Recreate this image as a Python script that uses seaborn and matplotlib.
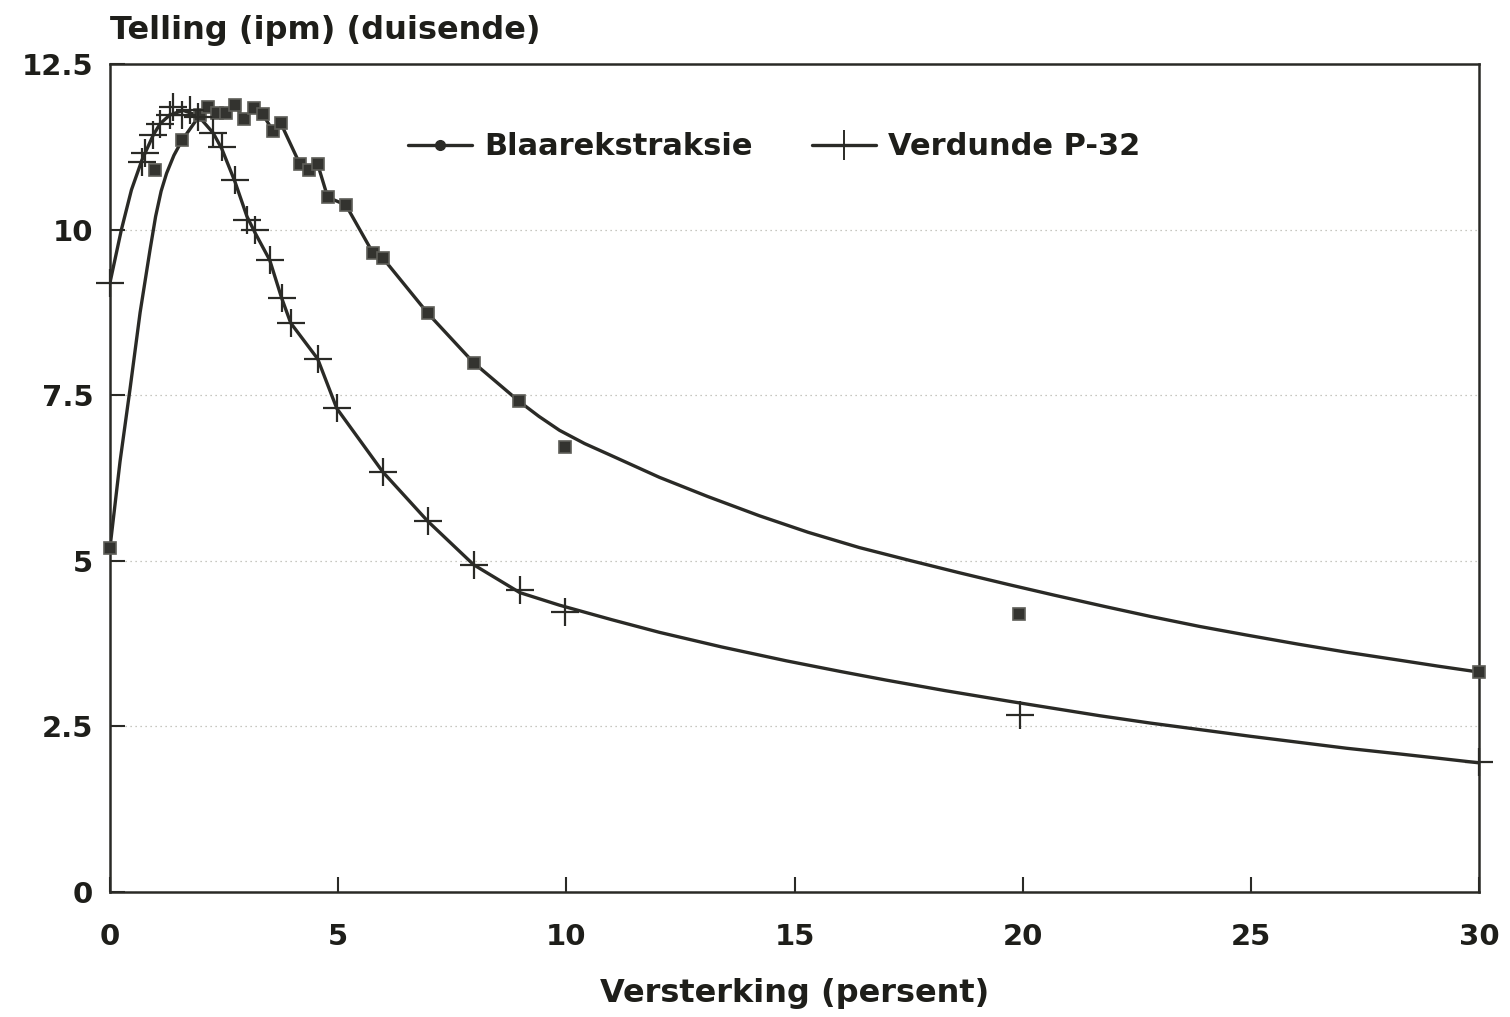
import numpy as np
import pandas as pd
import matplotlib
matplotlib.use("Agg")
import matplotlib.pyplot as plt
from matplotlib.lines import Line2D
import seaborn as sns

# ---------------- data ----------------
series_names = ["Blaarekstraksie", "Verdunde P-32"]

# measured points, Blaarekstraksie (squares)
blaar_x = [0, 0.99, 1.58, 1.97, 2.15, 2.34, 2.54, 2.74, 2.93, 3.15, 3.35, 3.57, 3.74,
           4.16, 4.36, 4.55, 4.77, 5.17, 5.76, 5.98, 6.96, 7.97, 8.96, 9.98, 19.93, 30]
blaar_y = [5.2, 10.9, 11.35, 11.73, 11.85, 11.76, 11.76, 11.88, 11.67, 11.83, 11.74, 11.49, 11.61,
           10.99, 10.9, 10.99, 10.49, 10.37, 9.65, 9.57, 8.74, 7.99, 7.41, 6.72, 4.2, 3.32]

# measured points, Verdunde P-32 (crosses)
p32_x = [0, 0.70, 0.77, 0.95, 1.10, 1.31, 1.38, 1.58, 1.75, 1.93, 2.26, 2.45, 2.74, 3.0,
         3.18, 3.5, 3.76, 3.96, 4.55, 4.97, 5.98, 6.96, 7.97, 8.98, 9.98, 19.95, 30]
p32_y = [9.19, 11.02, 11.15, 11.43, 11.6, 11.73, 11.85, 11.73, 11.8, 11.7, 11.46, 11.25, 10.75, 10.14,
         9.99, 9.54, 8.97, 8.59, 8.05, 7.3, 6.34, 5.6, 4.94, 4.56, 4.23, 2.67, 1.96]

# fitted curves
blaar_curve_x = [0, 0.22, 0.44, 0.66, 0.876, 1.0, 1.12, 1.24, 1.4, 1.58, 1.97, 2.15, 2.34, 2.54,
                 2.74, 2.93, 3.15, 3.35, 3.57, 3.74, 4.16, 4.36, 4.55, 4.77, 5.17, 5.76, 5.98,
                 6.96, 7.97, 8.96, 9.4, 9.85, 10.4, 10.95, 12.04, 13.1, 14.23, 15.3, 16.42,
                 17.5, 18.61, 19.7, 20.7, 21.8, 22.8, 23.87, 24.9, 26.05, 27.1, 28.25, 29.1, 30]
blaar_curve_y = [5.2, 6.5, 7.6, 8.75, 9.69, 10.2, 10.58, 10.85, 11.12, 11.35, 11.73, 11.85, 11.76, 11.76,
                 11.88, 11.67, 11.83, 11.74, 11.49, 11.61, 10.99, 10.9, 10.99, 10.49, 10.37, 9.65, 9.57,
                 8.74, 7.99, 7.41, 7.18, 6.97, 6.77, 6.6, 6.26, 5.97, 5.68, 5.43, 5.20,
                 5.01, 4.82, 4.64, 4.48, 4.31, 4.16, 4.01, 3.88, 3.74, 3.62, 3.50, 3.41, 3.32]

p32_curve_x = [0, 0.25, 0.47, 0.70, 0.95, 1.10, 1.31, 1.6, 1.93, 2.26, 2.45, 2.74, 3.0, 3.18,
               3.5, 3.76, 3.96, 4.55, 4.97, 5.98, 6.96, 7.97, 8.98, 9.85, 11.0, 12.04, 13.4,
               14.82, 16.0, 17.0, 18.3, 19.7, 20.7, 21.7, 22.8, 23.9, 25.0, 26.05, 27.1, 28.25,
               29.1, 30]
p32_curve_y = [9.2, 10.0, 10.6, 11.05, 11.43, 11.6, 11.73, 11.8, 11.72, 11.46, 11.22, 10.72, 10.2, 9.95,
               9.54, 8.97, 8.59, 8.05, 7.3, 6.34, 5.6, 4.94, 4.52, 4.33, 4.11, 3.92, 3.70,
               3.49, 3.33, 3.20, 3.04, 2.88, 2.77, 2.66, 2.55, 2.45, 2.35, 2.26, 2.17, 2.085,
               2.02, 1.95]

x_ticks = [0, 5, 10, 15, 20, 25, 30]
y_ticks = [0, 2.5, 5, 7.5, 10, 12.5]
y_tick_labels = ["0", "2.5", "5", "7.5", "10", "12.5"]

title_text = "Telling (ipm) (duisende)"
xlabel_text = "Versterking (persent)"

# ---------------- styling ----------------
sns.set_theme(style="white")
plt.rcParams["font.family"] = ["DejaVu Sans"]
plt.rcParams["font.weight"] = "bold"

INK = "#2a2a26"
TXT = "#1e1e1a"
FS_TICK = 21
FS_TEXT = 23
FS_LEG = 22

fig = plt.figure(figsize=(15.10, 10.17), dpi=100)
fig.patch.set_facecolor("white")
ax = fig.add_axes([110 / 1510, 1 - 892 / 1017, (1479 - 110) / 1510, (892 - 64) / 1017])
ax.set_facecolor("white")

curve_b = pd.DataFrame({"x": blaar_curve_x, "y": blaar_curve_y})
curve_p = pd.DataFrame({"x": p32_curve_x, "y": p32_curve_y})
pts_b = pd.DataFrame({"x": blaar_x, "y": blaar_y})
pts_p = pd.DataFrame({"x": p32_x, "y": p32_y})

for cdf in (curve_b, curve_p):
    sns.lineplot(data=cdf, x="x", y="y", ax=ax, color=INK, lw=2.4, sort=False,
                 estimator=None, zorder=3, solid_joinstyle="round", solid_capstyle="round")

ax.plot(pts_b["x"], pts_b["y"], ls="none", marker="s", ms=8, mfc="#33332f",
        mec="#5e5e58", mew=1.2, color=INK, zorder=4, clip_on=False)
ax.plot(pts_p["x"], pts_p["y"], ls="none", marker="+", ms=20, mew=1.6,
        color=INK, zorder=4, clip_on=False)

ax.set_xlim(0, 30)
ax.set_ylim(0, 12.5)
ax.set_xticks(x_ticks)
ax.set_xticklabels([str(t) for t in x_ticks])
ax.set_yticks(y_ticks)
ax.set_yticklabels(y_tick_labels)

ax.tick_params(axis="both", which="major", direction="in", length=11, width=1.5,
               color=INK, labelsize=FS_TICK, labelcolor=TXT)
ax.tick_params(axis="x", pad=22, bottom=True, top=False)
ax.tick_params(axis="y", pad=12, left=True, right=False)
for lab in ax.get_xticklabels() + ax.get_yticklabels():
    lab.set_fontweight("bold")

for sp in ax.spines.values():
    sp.set_visible(True)
    sp.set_color(INK)
    sp.set_linewidth(1.8)

ax.grid(axis="y", linestyle=(0, (1, 3)), color="#b5b5ad", linewidth=0.9)
ax.grid(axis="x", visible=False)

ax.set_xlabel(xlabel_text, fontsize=FS_TEXT, fontweight="bold", color=TXT, labelpad=20)
ax.set_ylabel("")
ax.text(0.0, 1.041, title_text, transform=ax.transAxes, ha="left", va="center",
        fontsize=FS_TEXT, fontweight="bold", color=TXT)

handles = [
    Line2D([], [], color=INK, lw=2.4, marker="o", ms=7, mfc=INK, mec=INK),
    Line2D([], [], color=INK, lw=2.4, marker="+", ms=22, mew=1.4),
]
leg = ax.legend(handles, series_names, loc="center left", bbox_to_anchor=(0.2177, 0.90),
                ncol=2, frameon=False, fontsize=FS_LEG, borderpad=0, borderaxespad=0,
                handlelength=2.1, handletextpad=0.39, columnspacing=1.95)
for t in leg.get_texts():
    t.set_fontweight("bold")
    t.set_color(TXT)

fig.savefig("out.png", dpi=100, facecolor="white")
